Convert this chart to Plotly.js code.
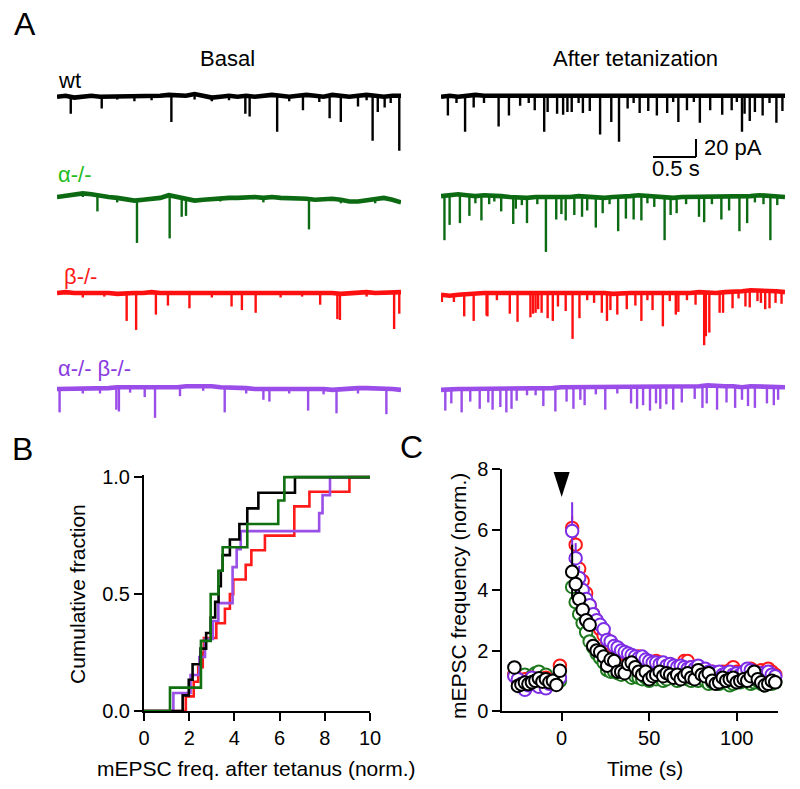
<!DOCTYPE html>
<html><head><meta charset="utf-8">
<script src="https://cdn.plot.ly/plotly-3.0.1.min.js"></script>
<style>html,body{margin:0;padding:0;background:#fff}</style>
</head><body><div id="chart" style="width:800px;height:789px"></div>
<script>
// ---------------- DATA ----------------
// Panel A: baseline samples every 0.1 s (pA, relative) and events [time s, amplitude pA]
const BASE_DT = 0.1;
const wtBasalBase = [0,1,-1,0,1,0,0,1,0,0,1,0,1,2,2,1,3,1,-1,0,1,0,1,0,1,2,1,0,1,2,1,0,2,1,0,1,2,1,0,1,1];
const wtAfterBase = [0,1,0,1,2,1,1,2,1,2,1,2,1,2,2,1,2,1,2,1,1,2,1,2,1,1,2,2,1,2,1,2,1,2,2,1,2,1,2,2,1];
const alphaBasalBase = [0,1,2,4,3,1,0,-1,-3,-4,-3,-2,-1,2,0,-2,-4,-3,-2,-1,-1,-1,0,0,-1,0,-1,-1,-2,-2,-3,-2,-2,-3,-5,-5,-4,-2,-1,-3,-6];
const alphaAfterBase = [1,2,3,2,1,2,2,1,0,-1,-1,0,0,-1,0,0,1,0,-1,-1,0,0,1,2,1,0,0,-1,0,0,1,0,0,1,0,1,1,2,1,1,0];
const betaBasalBase = [0,1,0,0,1,0,0,-1,0,0,0,1,0,0,1,0,1,0,0,1,0,1,1,0,0,1,0,0,1,0,0,1,0,-1,0,0,1,0,0,1,1];
const betaAfterBase = [-2,-3,-2,-1,0,0,0,0,0,0,1,0,0,0,0,1,0,0,0,0,-1,0,0,0,0,0,0,-1,0,0,1,0,0,1,1,2,3,3,3,2,1];
const abBasalBase = [0,0,0,0,1,1,1,2,2,2,2,2,1,2,2,3,3,4,3,2,2,1,1,0,0,0,1,1,1,1,1,0,-1,0,0,1,1,1,0,0,-1];
const abAfterBase = [-1,0,0,0,0,0,1,0,0,1,1,1,1,1,2,2,2,2,2,3,3,3,2,2,2,2,3,3,3,3,3,4,3,3,3,2,3,3,2,2,2];

const wtBasalEvents = [[0.16,18],[0.52,13],[0.7,4],[0.9,5],[1.1,4],[1.33,30],[1.6,6],[1.8,4],[2.0,5],[2.19,20],[2.24,23],[2.56,40],[2.7,5],[2.86,17],[3.05,7],[3.17,26],[3.30,29],[3.50,12],[3.60,6],[3.67,50],[3.73,18],[3.81,12],[3.88,8],[3.98,61]];
const wtAfterEvents = [[0.08,22],[0.18,7],[0.28,40],[0.38,14],[0.5,8],[0.67,35],[0.79,22],[0.92,12],[1.02,8],[1.09,17],[1.20,40],[1.24,18],[1.35,21],[1.42,22],[1.47,18],[1.52,18],[1.60,9],[1.65,20],[1.73,17],[1.85,43],[1.98,29],[2.07,52],[2.17,14],[2.24,8],[2.31,20],[2.41,17],[2.51,22],[2.63,20],[2.70,8],[2.76,29],[2.86,17],[2.94,8],[3.01,30],[3.13,17],[3.27,22],[3.38,17],[3.44,8],[3.50,40],[3.53,20],[3.59,29],[3.65,18],[3.74,22],[3.82,9],[3.90,31],[3.97,17]];
const alphaBasalEvents = [[0.3,4],[0.47,17],[0.7,5],[0.93,47],[1.31,48],[1.45,22],[1.50,19],[1.9,4],[2.4,5],[2.93,34],[3.3,4],[3.7,5]];
const alphaAfterEvents = [[0.04,49],[0.10,33],[0.22,32],[0.33,23],[0.40,8],[0.47,28],[0.56,10],[0.62,7],[0.70,17],[0.84,30],[0.87,12],[0.94,8],[1.00,28],[1.12,8],[1.22,61],[1.34,24],[1.40,19],[1.45,26],[1.55,21],[1.64,23],[1.70,15],[1.80,33],[1.88,17],[1.96,8],[2.06,38],[2.15,24],[2.24,26],[2.33,28],[2.40,8],[2.48,11],[2.60,48],[2.67,19],[2.74,17],[2.85,8],[3.00,23],[3.06,28],[3.15,8],[3.26,26],[3.35,15],[3.47,39],[3.56,30],[3.65,8],[3.75,9],[3.83,49],[3.91,10]];
const betaBasalEvents = [[0.3,5],[0.55,4],[0.81,31],[0.92,41],[1.15,25],[1.29,14],[1.54,17],[1.8,5],[2.03,15],[2.15,20],[2.31,22],[2.6,5],[2.85,4],[3.06,14],[3.26,28],[3.29,29],[3.6,5],[3.92,41],[3.98,24]];
const betaAfterEvents = [[0.01,8],[0.15,7],[0.27,25],[0.38,31],[0.53,25],[0.54,26],[0.65,8],[0.80,23],[0.89,32],[1.04,28],[1.07,23],[1.10,22],[1.13,18],[1.17,22],[1.24,28],[1.30,31],[1.36,15],[1.45,20],[1.53,52],[1.61,28],[1.70,8],[1.78,11],[1.87,22],[1.93,31],[1.97,18],[2.05,23],[2.16,18],[2.26,14],[2.33,31],[2.40,8],[2.46,19],[2.58,37],[2.66,8],[2.73,23],[2.76,21],[2.86,8],[2.96,14],[3.06,58],[3.08,48],[3.12,44],[3.24,22],[3.28,23],[3.39,18],[3.46,8],[3.54,17],[3.59,19],[3.68,12],[3.72,14],[3.77,21],[3.82,20],[3.89,13],[3.96,13]];
const abBasalEvents = [[0.03,26],[0.3,5],[0.5,6],[0.69,25],[0.72,27],[0.85,6],[1.02,11],[1.14,34],[1.43,10],[1.7,6],[1.95,28],[2.2,6],[2.40,12],[2.47,14],[2.7,6],[2.92,25],[3.1,6],[3.25,27],[3.5,6],[3.83,28]];
const abAfterEvents = [[0.05,24],[0.12,16],[0.24,26],[0.34,14],[0.45,22],[0.55,16],[0.60,24],[0.69,20],[0.76,26],[0.82,22],[0.88,14],[1.0,8],[1.1,8],[1.19,20],[1.33,26],[1.46,16],[1.54,24],[1.62,14],[1.67,20],[1.80,8],[1.91,26],[2.05,8],[2.21,18],[2.28,24],[2.35,20],[2.43,26],[2.50,18],[2.55,24],[2.62,20],[2.70,26],[2.80,18],[2.95,14],[3.04,24],[3.09,20],[3.21,26],[3.32,18],[3.42,24],[3.50,14],[3.57,22],[3.65,24],[3.79,18],[3.87,20],[3.92,14]];

// Panel B: sorted per-cell normalized mEPSC frequency after tetanus
const cdfWt = [1.71,1.98,2.15,2.5,2.75,2.95,3.15,3.3,3.4,3.48,3.8,4.22,4.57,5.06,6.68];
const cdfAlpha = [1.15,2.52,2.52,2.95,2.95,3.29,3.48,4.57,5.94,6.21];
const cdfBeta = [1.85,2.2,2.4,2.6,2.65,3.2,3.58,3.8,3.95,4.5,4.75,5.35,6.65,6.65,7.32,9.09];
const cdfAb = [1.3,2.06,2.45,2.7,3.05,3.29,3.92,3.92,4.1,4.28,7.75,7.9,8.23];
const cdfXMax = 10;

// Panel C: time bins (s) and normalized mEPSC frequency
const basalTimes = [-27,-25,-23,-21,-19,-17,-15,-13,-11,-9,-7,-5,-3,-1];
const postTimes = [6,8,10,12,14,16,18,20,22,24,26,28,30,32,34,36,38,40,42,44,46,48,50,52,54,56,58,60,62,64,66,68,70,72,74,76,78,80,82,84,86,88,90,92,94,96,98,100,102,104,106,108,110,112,114,116,118,120,122];
const wtBasal = [1.44,0.83,0.88,0.94,0.89,0.95,1.0,1.08,0.97,1.05,0.95,1.0,0.86,1.33];
const wtPost = [4.6,4.2,3.7,3.35,3.0,2.85,2.15,2.0,1.95,1.8,
 1.5,1.7,1.65,1.3,1.3,1.25,1.55,1.6,1.45,1.3,
 1.2,1.3,1.05,1.15,1.2,1.3,1.15,1.25,1.2,1.1,
 1.2,1.05,1.15,1.25,1.1,1.05,1.35,1.2,1.15,1.25,
 1.0,0.9,0.95,1.1,1.0,1.05,1.1,0.95,1.0,1.05,
 1.0,1.15,1.3,1.05,0.95,0.85,0.9,1.0,0.95];
const wtErr = [0.9,0.3,0.3,0.25,0.25,0.2,0.2,0.2,0.15,0.15,0.15,0.15];
const alphaBasal = [1.2,1.0,1.1,1.2,1.05,1.15,1.25,1.3,1.1,1.2,1.0,0.9,1.0,1.0];
const alphaPost = [4.1,3.6,3.2,2.9,2.6,2.3,2.1,1.9,1.75,1.6,
 1.35,1.3,1.3,1.25,1.2,1.3,1.2,1.1,1.15,1.1,
 1.05,1.1,1.0,1.1,1.05,1.1,1.0,1.05,1.15,1.1,
 1.0,1.05,1.1,1.05,1.0,1.05,1.0,1.3,1.0,0.9,
 0.95,1.0,0.9,0.95,1.0,0.85,0.9,1.0,0.95,1.0,
 1.05,0.9,0.95,1.0,0.9,0.85,0.95,0.9,0.95];
const alphaErr = [0.3,0.5,0.4,0.35,0.3,0.3,0.25,0.2,0.2,0.2,0.2,0.2];
const betaBasal = [1.2,1.0,0.95,1.05,1.0,1.1,0.95,1.05,1.0,1.1,1.0,0.95,1.05,1.5];
const betaPost = [6.05,5.5,4.7,4.3,3.9,3.5,3.2,2.9,2.7,2.5,
 2.3,2.2,2.1,2.0,1.95,1.85,1.8,1.75,1.7,1.8,
 1.7,1.65,1.6,1.55,1.65,1.6,1.5,1.5,1.45,1.5,
 1.45,1.4,1.65,1.65,1.45,1.35,1.4,1.3,1.35,1.25,
 1.3,1.2,1.25,1.3,1.2,1.35,1.45,1.3,1.25,1.3,
 1.35,1.4,1.3,1.25,1.35,1.3,1.4,1.3,1.2];
const betaErr = [0.4,0.6,0.5,0.4,0.35,0.3,0.3,0.25,0.2,0.2,0.2,0.2];
const abBasal = [1.15,1.05,0.9,0.7,0.85,1.1,0.95,0.8,1.0,0.75,0.9,1.0,0.95,1.1];
const abPost = [5.95,5.05,4.4,4.0,3.7,3.5,3.2,3.0,2.85,2.7,
 2.35,2.3,2.15,2.1,2.0,1.95,1.9,1.85,1.8,1.75,
 1.8,1.7,1.65,1.6,1.6,1.55,1.6,1.5,1.55,1.5,
 1.45,1.5,1.45,1.4,1.45,1.4,1.5,1.35,1.4,1.3,
 1.3,1.25,1.3,1.2,1.25,1.3,1.2,1.25,1.2,1.3,
 1.4,1.35,1.3,1.2,1.25,1.2,1.3,1.2,1.15];
const abErr = [0.95,0.5,0.4,0.35,0.3,0.3,0.25,0.25,0.2,0.2,0.2,0.2];
const tetanusTime = 0;

// Scale bar values
const scaleBarTime = 0.5, scaleBarCurrent = 20;

// ---------------- LAYOUT HELPERS ----------------
const W = 800, H = 789;
const px = x => x / W, py = y => 1 - y / H;
const FONT = 'Arial, "Liberation Sans", sans-serif';
const PX_PER_PA = 0.9;
const ROW_TOP = 14, ROW_BOT = 66;
const rowBaseline = [96.7, 197, 293, 389];
const COL = {black:'#000000', green:'#0c6b12', red:'#ff1010', purple:'#9a4de8'};

function rowAxis(b) {
  return {domain:[py(b + ROW_BOT), py(b - ROW_TOP)], range:[-ROW_BOT / PX_PER_PA, ROW_TOP / PX_PER_PA],
          visible:false, fixedrange:true};
}
function traceSet(base, events, xa, ya, color) {
  const bx = base.map((v, i) => i * BASE_DT);
  const sx = [], sy = [];
  events.forEach(([t, a]) => {
    const b = base[Math.min(base.length - 1, Math.round(t / BASE_DT))];
    sx.push(t, t, null); sy.push(b, b - a, null);
  });
  return [
    {x:bx, y:base, mode:'lines', line:{color:color, width:4.6}, xaxis:xa, yaxis:ya, hoverinfo:'skip', showlegend:false},
    {x:sx, y:sy, mode:'lines', line:{color:color, width:2.4}, xaxis:xa, yaxis:ya, hoverinfo:'skip', showlegend:false}
  ];
}
function cdfTrace(vals, color) {
  const n = vals.length, x = [0], y = [0];
  vals.forEach((v, i) => { x.push(v); y.push((i + 1) / n); });
  x.push(cdfXMax); y.push(1);
  return {x:x, y:y, mode:'lines', line:{color:color, width:2.6, shape:'hv'}, xaxis:'x3', yaxis:'y5', showlegend:false, cliponaxis:false};
}
function timeTrace(basal, post, err, color, fill) {
  return {x:basalTimes.concat(postTimes), y:basal.concat(post), mode:'markers',
    marker:{symbol:'circle', size:12.5, color:fill, line:{color:color, width:2}},
    error_y:{type:'data', array:basal.map(() => 0).concat(err), visible:true, color:color, thickness:2, width:0},
    xaxis:'x4', yaxis:'y6', showlegend:false, cliponaxis:false};
}

const data = [].concat(
  traceSet(wtBasalBase, wtBasalEvents, 'x', 'y', COL.black),
  traceSet(wtAfterBase, wtAfterEvents, 'x2', 'y', COL.black),
  traceSet(alphaBasalBase, alphaBasalEvents, 'x', 'y2', COL.green),
  traceSet(alphaAfterBase, alphaAfterEvents, 'x2', 'y2', COL.green),
  traceSet(betaBasalBase, betaBasalEvents, 'x', 'y3', COL.red),
  traceSet(betaAfterBase, betaAfterEvents, 'x2', 'y3', COL.red),
  traceSet(abBasalBase, abBasalEvents, 'x', 'y4', COL.purple),
  traceSet(abAfterBase, abAfterEvents, 'x2', 'y4', COL.purple),
  [cdfTrace(cdfBeta, '#ff1a1a'), cdfTrace(cdfAb, '#9a4fe6'), cdfTrace(cdfWt, '#000000'), cdfTrace(cdfAlpha, '#107010')],
  [timeTrace(alphaBasal, alphaPost, alphaErr, '#1f7a1f', '#ffffff'),
   timeTrace(betaBasal, betaPost, betaErr, '#ff1a1a', '#ffffff'),
   timeTrace(abBasal, abPost, abErr, '#7d2de6', '#ffffff'),
   timeTrace(wtBasal, wtPost, wtErr, '#000000', '#ffffff')]
);

const axisStyle = {showline:true, linecolor:'#000', linewidth:2, ticks:'outside', ticklen:8, tickwidth:2,
  tickcolor:'#000', showgrid:false, zeroline:false, tickfont:{family:FONT, size:20, color:'#000'}, fixedrange:true};

const ann = (text, x, y, size, color, xanchor) => ({text:text, xref:'paper', yref:'paper', x:px(x), y:py(y),
  xanchor:xanchor || 'center', yanchor:'middle', showarrow:false, font:{family:FONT, size:size, color:color || '#000'}});

const layout = {
  width:W, height:H, margin:{l:0, r:0, t:0, b:0}, paper_bgcolor:'#fff', plot_bgcolor:'rgba(0,0,0,0)',
  showlegend:false,
  xaxis:{domain:[px(57), px(401)], range:[0, 4], visible:false, anchor:'y', fixedrange:true},
  xaxis2:{domain:[px(441), px(785)], range:[0, 4], visible:false, anchor:'y', fixedrange:true},
  yaxis:Object.assign(rowAxis(rowBaseline[0]), {anchor:'x'}),
  yaxis2:Object.assign(rowAxis(rowBaseline[1]), {anchor:'x'}),
  yaxis3:Object.assign(rowAxis(rowBaseline[2]), {anchor:'x'}),
  yaxis4:Object.assign(rowAxis(rowBaseline[3]), {anchor:'x'}),
  xaxis3:Object.assign({}, axisStyle, {domain:[px(144), px(370)], range:[0, 10], tickvals:[0,2,4,6,8,10], anchor:'y5'}),
  yaxis5:Object.assign({}, axisStyle, {domain:[py(711), py(475.3)], range:[0, 1.008], tickvals:[0,0.5,1], tickformat:'.1f', anchor:'x3'}),
  xaxis4:Object.assign({}, axisStyle, {domain:[px(502.3), px(777.7)], range:[-33.9, 123.4], tickvals:[0,50,100], anchor:'y6'}),
  yaxis6:Object.assign({}, axisStyle, {domain:[py(711), py(469)], range:[0, 8], tickvals:[0,2,4,6,8], anchor:'x4'}),
  shapes:[
    {type:'line', xref:'x2', yref:'y', x0:2.465, x1:2.465 + scaleBarTime, y0:-67, y1:-67, line:{color:'#000', width:2}},
    {type:'line', xref:'x2', yref:'y', x0:2.465 + scaleBarTime, x1:2.465 + scaleBarTime, y0:-67, y1:-67 + scaleBarCurrent, line:{color:'#000', width:2}},
    {type:'path', xref:'x4', yref:'y6', xsizemode:'pixel', ysizemode:'pixel', xanchor:tetanusTime, yanchor:8,
     path:'M -8,-3 L 8,-3 L 0,-28 Z', fillcolor:'#000', line:{width:0}}
  ],
  annotations:[
    ann('A', 25, 24, 32),
    ann('B', 22, 449, 32),
    ann('C', 411, 447, 32),
    ann('Basal', 227, 58, 22),
    ann('After tetanization', 635, 58, 22),
    ann('wt', 56, 80, 22, '#000', 'left'),
    ann('α-/-', 56, 175, 22, '#22bb22', 'left'),
    ann('β-/-', 62, 277, 22, '#ff1a1a', 'left'),
    ann('α-/- β-/-', 56, 368, 22, '#8a3be0', 'left'),
    ann('20 pA', 702, 148, 22, '#000', 'left'),
    ann('0.5 s', 676, 169, 22),
    {text:'Cumulative fraction', xref:'paper', yref:'paper', x:px(77), y:py(594), xanchor:'center', yanchor:'middle',
     textangle:-90, showarrow:false, font:{family:FONT, size:21, color:'#000'}},
    ann('mEPSC freq. after tetanus (norm.)', 256.5, 768, 21),
    {text:'mEPSC frequency (norm.)', xref:'paper', yref:'paper', x:px(458), y:py(596), xanchor:'center', yanchor:'middle',
     textangle:-90, showarrow:false, font:{family:FONT, size:21, color:'#000'}},
    ann('Time (s)', 645, 768, 21)
  ]
};

Plotly.newPlot('chart', data, layout, {staticPlot:true, displayModeBar:false});
</script></body></html>
